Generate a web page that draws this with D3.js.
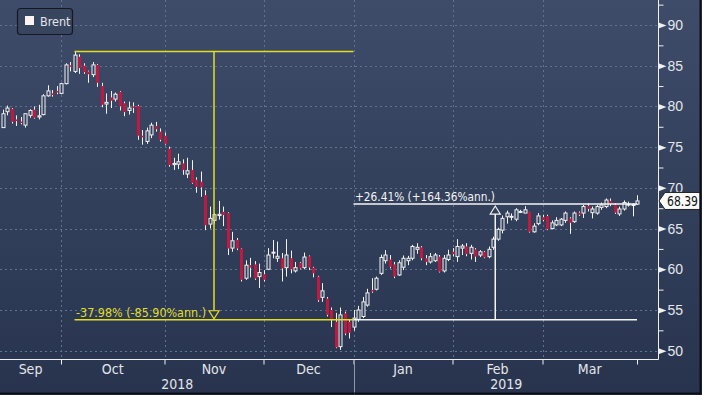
<!DOCTYPE html>
<html><head><meta charset="utf-8">
<script src="https://cdn.jsdelivr.net/npm/d3@7"></script>
<style>
html,body{margin:0;padding:0;background:#2a3650;overflow:hidden;}
svg{display:block;font-family:"Liberation Sans Narrow","DejaVu Sans Condensed","Arial Narrow",sans-serif;}
</style></head><body>
<script>
// Brent daily candles, 11 Sep 2018 - 29 Mar 2019
var open = [77.4,79.35,79.7,78.4,78.15,77.7,78.9,79.6,78.7,79.0,81.3,81.6,81.9,81.6,82.8,85.05,84.3,86.1,85.0,84.3,
  83.9,85.1,82.5,80.3,81.1,80.9,81.8,80.4,79.5,80.0,80.05,76.4,75.7,76.5,77.6,76.9,76.4,74.8,72.85,72.9,
  73.0,71.7,72.2,71.0,70.75,69.1,65.55,66.0,66.6,67.05,66.9,62.6,63.6,62.55,58.9,60.5,60.6,59.1,59.4,60.0,
  62.0,61.35,61.35,60.2,61.35,59.8,60.8,60.2,61.6,60.2,59.1,56.55,56.4,55.0,53.55,50.5,54.6,53.55,52.9,53.85,
  54.2,55.6,57.45,57.55,59.5,61.05,61.2,60.6,59.3,60.25,61.05,61.35,62.45,62.7,61.35,60.9,61.05,61.55,59.8,61.2,
  62.15,61.55,62.6,62.8,61.95,62.45,61.75,62.15,61.55,62.7,63.7,64.8,66.45,66.45,66.15,67.0,66.9,67.05,64.6,65.6,
  66.4,66.55,65.0,65.45,65.45,66.0,66.25,65.85,66.95,66.9,67.8,66.95,66.9,67.6,67.7,68.4,67.9,66.8,67.4,67.95,
  67.85,68.0];
var high = [79.6,80.1,79.8,78.9,78.7,79.15,79.65,80.0,80.2,81.5,82.6,82.0,82.5,82.9,85.3,85.45,86.74,86.4,85.3,84.4,
  85.45,85.2,82.9,81.6,81.9,81.7,81.9,80.6,80.6,80.5,80.2,77.1,77.4,78.0,78.1,77.3,76.8,75.05,73.7,74.2,
  73.5,73.7,73.4,71.3,72.0,69.7,67.7,66.9,68.4,67.7,67.0,64.6,63.85,62.6,61.1,61.4,61.0,60.7,59.9,62.6,
  63.6,63.4,62.0,63.7,62.3,60.9,60.9,62.05,61.7,60.3,59.2,58.3,56.6,55.3,54.65,55.3,54.8,53.8,55.0,55.5,
  56.6,57.6,58.9,59.1,61.8,62.35,61.75,60.9,61.1,61.7,61.65,63.0,63.2,62.85,61.75,62.0,62.0,61.75,61.75,62.4,
  62.6,63.7,63.1,63.2,63.0,62.6,62.35,62.25,62.8,64.0,65.1,66.6,67.2,66.85,67.5,67.3,67.75,67.05,65.65,66.9,
  66.7,66.7,66.0,66.4,66.3,67.1,66.4,67.1,67.1,67.9,68.1,67.7,67.9,68.2,68.7,68.7,68.1,67.7,68.45,68.3,
  68.1,69.1];
var low = [77.4,78.9,77.9,77.6,77.8,77.4,78.6,78.5,78.4,78.9,81.2,81.2,81.5,81.5,82.7,84.3,84.1,84.0,84.0,82.9,
  83.6,82.4,79.9,79.1,79.8,80.6,79.5,78.8,79.0,79.2,75.9,75.3,75.4,76.1,76.9,75.7,75.3,72.6,72.2,72.3,
  71.6,71.2,70.5,69.4,68.9,64.8,65.0,65.6,66.1,65.3,61.75,62.15,62.35,58.5,58.7,59.0,58.7,57.7,58.5,59.9,
  61.35,60.9,58.5,59.1,59.5,59.6,60.0,60.0,59.9,59.0,56.0,56.0,54.2,52.9,50.3,50.1,51.9,51.5,52.45,53.55,
  54.0,55.4,57.1,57.4,59.3,60.7,60.1,58.9,59.2,59.9,60.5,61.1,61.9,61.1,60.5,60.7,60.9,59.6,59.6,61.0,
  61.6,60.9,61.75,61.6,61.2,60.9,61.5,61.35,61.35,62.4,63.5,64.4,65.6,66.0,65.9,66.9,66.9,64.5,64.5,65.4,
  65.9,64.8,64.9,65.3,65.3,65.7,64.35,65.7,66.55,66.3,67.1,66.25,66.7,67.3,67.5,67.75,66.8,66.55,67.2,67.7,
  66.5,67.9];
var close = [79.1,79.8,78.1,78.2,78.0,79.1,79.5,78.6,78.85,81.3,81.9,81.4,81.7,82.8,85.1,84.85,86.3,84.7,84.2,83.95,
  85.1,82.9,80.2,80.5,80.7,81.5,80.0,79.3,79.8,79.85,76.4,76.2,77.0,77.7,77.2,75.9,75.4,72.8,73.0,73.2,
  72.2,72.1,70.6,70.1,70.05,65.4,66.25,66.7,66.75,66.65,62.55,63.5,62.55,58.7,60.5,60.2,58.85,59.6,58.7,61.75,
  62.1,61.6,60.1,61.75,60.0,60.2,60.1,61.5,60.2,59.5,56.2,57.35,54.4,53.85,50.4,54.4,52.1,52.2,54.0,55.0,
  56.0,57.1,57.25,58.9,61.45,61.75,60.3,59.1,60.8,61.35,61.35,62.8,62.7,61.35,60.9,61.55,61.75,59.7,61.35,61.75,
  61.85,62.8,62.85,61.85,62.7,61.55,62.15,61.45,62.45,63.7,64.9,66.25,66.9,66.5,67.3,67.1,67.3,64.6,65.3,66.55,
  66.05,64.9,65.7,66.0,66.15,66.9,65.7,66.9,66.7,67.7,67.4,67.4,67.7,67.9,68.5,68.0,66.95,67.4,68.2,68.0,
  67.95,68.39];
var lastPrice = 68.39;
var yTicks = [50, 55, 60, 65, 70, 75, 80, 85, 90];
var yMinor = [47.5, 52.5, 57.5, 62.5, 67.5, 72.5, 77.5, 82.5, 87.5, 92.5];
var monthLabels = ["Sep", "Oct", "Nov", "Dec", "Jan", "Feb", "Mar"];
var yearLabels = ["2018", "2019"];
var holidays = ["2018-12-25", "2019-01-01"];
var peak = 86.74, trough = 53.80, rebound = 68.01;
var downText = "-37.98% (-85.90%ann.)";
var upText = "+26.41% (+164.36%ann.)";

var W = 702, H = 395, plotR = 658, plotB = 359;
var red = "#c0193f", gridCol = "#5f7390", txt = "#e4e6ea", yellow = "#e2df1e";

// trading calendar (weekdays minus exchange holidays)
var fmt = d3.timeFormat("%Y-%m-%d");
var dates = d3.timeDay.range(new Date(2018, 8, 11), new Date(2019, 2, 30))
  .filter(function(d) { return d.getDay() != 0 && d.getDay() != 6 && holidays.indexOf(fmt(d)) < 0 });

var candles = dates.map(function(d, i) {
  return {i: i, date: d, o: open[i], h: high[i], l: low[i], c: close[i]}
});

var x = d3.scalePoint().domain(d3.range(candles.length)).range([2.5, 637]);
var y = d3.scaleLinear().domain([48.98, 93.07]).range([plotB, 0]);

// last trading day of each month
var monthEnds = candles.filter(function(d, i) {
  return i == candles.length - 1 || candles[i + 1].date.getMonth() != d.date.getMonth()
}).map(function(d) { return d.i });

var svg = d3.select("body").append("svg").attr("width", W).attr("height", H);

var grad = svg.append("defs").append("linearGradient").attr("id", "bg")
  .attr("x1", 0).attr("y1", 0).attr("x2", 0).attr("y2", 1);
grad.append("stop").attr("offset", "0%").attr("stop-color", "#3e4c6a");
grad.append("stop").attr("offset", "100%").attr("stop-color", "#28344e");
svg.append("rect").attr("width", W).attr("height", H).attr("fill", "url(#bg)");

// grid
svg.append("g").selectAll("line").data(yTicks).enter().append("line")
  .attr("x1", 0).attr("x2", plotR)
  .attr("y1", function(d) { return Math.round(y(d)) + 0.5 })
  .attr("y2", function(d) { return Math.round(y(d)) + 0.5 })
  .attr("stroke", gridCol).attr("stroke-dasharray", "2,3");
svg.append("g").selectAll("line").data(monthEnds.slice(0, -1)).enter().append("line")
  .attr("x1", function(d) { return Math.round(x(d)) + 0.5 })
  .attr("x2", function(d) { return Math.round(x(d)) + 0.5 })
  .attr("y1", 0).attr("y2", plotB)
  .attr("stroke", gridCol).attr("stroke-dasharray", "2,3");

// candles
var cx = function(d) { return Math.round(x(d.i)) + 0.5 };
var g = svg.append("g");
var up = candles.filter(function(d) { return d.c >= d.o });
var down = candles.filter(function(d) { return d.c < d.o });

g.selectAll(".wd").data(down).enter().append("line")
  .attr("x1", cx).attr("x2", cx)
  .attr("y1", function(d) { return y(d.h) }).attr("y2", function(d) { return y(d.l) })
  .attr("stroke", "#f2f2f2");
g.selectAll(".bd").data(down).enter().append("rect")
  .attr("x", function(d) { return cx(d) - 1.5 }).attr("width", 3)
  .attr("y", function(d) { return y(d.o) })
  .attr("height", function(d) { return Math.max(1.5, y(d.c) - y(d.o)) })
  .attr("fill", red);

g.selectAll(".wu").data(up).enter().append("line")
  .attr("x1", cx).attr("x2", cx)
  .attr("y1", function(d) { return y(d.h) }).attr("y2", function(d) { return y(d.c) })
  .attr("stroke", "#f2f2f2");
g.selectAll(".wu2").data(up).enter().append("line")
  .attr("x1", cx).attr("x2", cx)
  .attr("y1", function(d) { return y(d.o) }).attr("y2", function(d) { return y(d.l) })
  .attr("stroke", "#f2f2f2");
g.selectAll(".bu").data(up).enter().append("rect")
  .attr("x", function(d) { return cx(d) - 1.5 }).attr("width", 3)
  .attr("y", function(d) { return y(d.c) })
  .attr("height", function(d) { return Math.max(1, y(d.o) - y(d.c)) })
  .attr("fill", "#34425e").attr("stroke", "#f2f2f2");

// annotations
var iPeak = 16, iBase = 78, iLast = candles.length - 1;
var xa = x(iPeak), xb = x(iBase), xc = x(iLast);
var ann = svg.append("g");
ann.append("line").attr("x1", xa).attr("x2", xb).attr("y1", y(peak)).attr("y2", y(peak))
  .attr("stroke", yellow).attr("stroke-width", 1.5);
ann.append("line").attr("x1", xa).attr("x2", xb).attr("y1", y(trough)).attr("y2", y(trough))
  .attr("stroke", yellow).attr("stroke-width", 1.5);
var xm1 = (xa + xb) / 2;
ann.append("line").attr("x1", xm1).attr("x2", xm1).attr("y1", y(peak)).attr("y2", y(trough) - 9)
  .attr("stroke", yellow).attr("stroke-width", 1.5);
ann.append("path")
  .attr("d", "M" + (xm1 - 5) + "," + (y(trough) - 9) + "L" + (xm1 + 5) + "," + (y(trough) - 9) + "L" + xm1 + "," + (y(trough) - 1) + "Z")
  .attr("fill", "none").attr("stroke", yellow).attr("stroke-width", 1.2);
ann.append("text").attr("x", xa + 1.5).attr("y", y(trough) - 3)
  .attr("fill", yellow).attr("font-size", 13)
  .attr("textLength", 130).attr("lengthAdjust", "spacingAndGlyphs").text(downText);

ann.append("line").attr("x1", xb).attr("x2", xc).attr("y1", y(rebound)).attr("y2", y(rebound))
  .attr("stroke", "#f4f4f4").attr("stroke-width", 1.5);
ann.append("line").attr("x1", xb).attr("x2", xc).attr("y1", y(trough)).attr("y2", y(trough))
  .attr("stroke", "#f4f4f4").attr("stroke-width", 1.5);
var xm2 = (xb + xc) / 2;
ann.append("line").attr("x1", xm2).attr("x2", xm2).attr("y1", y(trough)).attr("y2", y(rebound) + 10)
  .attr("stroke", "#f4f4f4").attr("stroke-width", 1.5);
ann.append("path")
  .attr("d", "M" + (xm2 - 5) + "," + (y(rebound) + 10) + "L" + (xm2 + 5) + "," + (y(rebound) + 10) + "L" + xm2 + "," + (y(rebound) + 2) + "Z")
  .attr("fill", "none").attr("stroke", "#f4f4f4").attr("stroke-width", 1.2);
ann.append("text").attr("x", xb + 1.5).attr("y", y(rebound) - 3.5)
  .attr("fill", "#f4f4f4").attr("font-size", 13)
  .attr("textLength", 140).attr("lengthAdjust", "spacingAndGlyphs").text(upText);

// right axis
var yAxis = svg.append("g").attr("transform", "translate(" + (plotR + 0.5) + ",0)")
  .call(d3.axisRight(y).tickValues(yTicks).tickSize(0).tickPadding(9).tickFormat(d3.format("d")));
yAxis.select(".domain").attr("stroke", "#f0f0f0").attr("d", "M0,0V" + (plotB + 0.5));
yAxis.selectAll("text").attr("fill", txt).attr("font-size", 14).attr("font-family", null);
yAxis.selectAll(".tick").append("path").attr("d", "M0,-3L8,0L0,3Z").attr("fill", "#f0f0f0");
var yMin = svg.append("g").attr("transform", "translate(" + (plotR + 0.5) + ",0)")
  .call(d3.axisRight(y).tickValues(yMinor.filter(function(v) { return y(v) > 0 && y(v) < plotB })).tickSize(5).tickFormat(""));
yMin.select(".domain").remove();
yMin.selectAll("line").attr("stroke", "#f0f0f0");

// bottom axis
var xAxis = svg.append("g").attr("transform", "translate(0," + (plotB + 0.5) + ")")
  .call(d3.axisBottom(x).tickValues(monthEnds).tickSize(5).tickFormat(""));
xAxis.select(".domain").attr("stroke", "#f0f0f0").attr("d", "M0,0H" + (plotR + 0.5));
xAxis.selectAll("line").attr("stroke", "#f0f0f0");

var bounds = [0].concat(monthEnds.map(function(i) { return x(i) }));
svg.append("g").selectAll("text").data(monthLabels).enter().append("text")
  .attr("x", function(d, k) { return (bounds[k] + bounds[k + 1]) / 2 })
  .attr("y", 374).attr("text-anchor", "middle").attr("fill", txt).attr("font-size", 14)
  .text(function(d) { return d });

var xYear = Math.round(x(iBase)) + 0.5;
svg.append("line").attr("x1", xYear).attr("x2", xYear).attr("y1", 362).attr("y2", H)
  .attr("stroke", "#8d98aa");
var yb = [0, xYear, plotR];
svg.append("g").selectAll("text").data(yearLabels).enter().append("text")
  .attr("x", function(d, k) { return (yb[k] + yb[k + 1]) / 2 })
  .attr("y", 389).attr("text-anchor", "middle").attr("fill", txt).attr("font-size", 14)
  .text(function(d) { return d });

// last price tag
var yl = y(lastPrice);
svg.append("path")
  .attr("d", "M" + (plotR + 1) + "," + yl + "L" + (plotR + 7) + "," + (yl - 8.5) + "H700V" + (yl + 8.5) + "H" + (plotR + 7) + "Z")
  .attr("fill", "#fbfbfb").attr("stroke", "#222");
svg.append("text").attr("x", plotR + 9).attr("y", yl + 5).attr("fill", "#111").attr("font-size", 14)
  .attr("textLength", 31).attr("lengthAdjust", "spacingAndGlyphs")
  .text(d3.format(".2f")(lastPrice));

// legend
var lg = svg.append("g");
lg.append("rect").attr("x", 17.5).attr("y", 8.5).attr("width", 55).attr("height", 26).attr("rx", 3)
  .attr("fill", "#37455f").attr("stroke", "#141925").attr("stroke-width", 1.2);
lg.append("rect").attr("x", 25).attr("y", 16).attr("width", 9).attr("height", 9).attr("fill", "#fbf3ef");
lg.append("text").attr("x", 40).attr("y", 26).attr("fill", txt).attr("font-size", 12.5).text("Brent");

// frame
svg.append("path").attr("d", "M" + (W - 1.5) + ",0V" + (H - 1.5) + "H0").attr("fill", "none").attr("stroke", "#0d0f14").attr("stroke-width", 2);
</script>
</body></html>
